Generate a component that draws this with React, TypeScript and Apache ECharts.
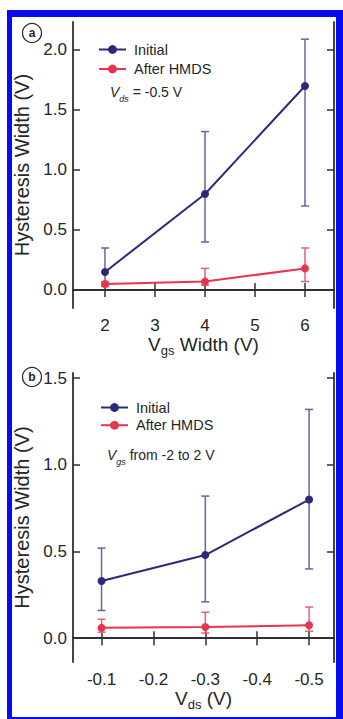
import React, { useEffect, useRef } from 'react';
import * as echarts from 'echarts';

// Panel (a): Vgs width sweep
const xA = [2, 4, 6];
const initialA = [0.15, 0.8, 1.7];
const initialALow = [0.03, 0.4, 0.7];
const initialAHigh = [0.35, 1.32, 2.09];
const afterA = [0.05, 0.07, 0.18];
const afterALow = [0.03, 0.04, 0.07];
const afterAHigh = [0.07, 0.18, 0.35];

// Panel (b): Vds sweep
const xB = [-0.1, -0.3, -0.5];
const initialB = [0.33, 0.48, 0.8];
const initialBLow = [0.16, 0.21, 0.4];
const initialBHigh = [0.52, 0.82, 1.32];
const afterB = [0.06, 0.065, 0.075];
const afterBLow = [0.035, 0.03, 0.04];
const afterBHigh = [0.11, 0.15, 0.18];

const xTicksA = [2, 3, 4, 5, 6];
const yTicksA = [0, 0.5, 1, 1.5, 2];
const xTicksB = [-0.1, -0.2, -0.3, -0.4, -0.5];
const yTicksB = [0, 0.5, 1, 1.5];

const seriesNames = ['Initial', 'After HMDS'];

const NAVY = '#2b2a7a';
const NAVY_ERR = '#6464a4';
const RED = '#e8344c';
const RED_ERR = '#e5607a';
const INK = '#262626';
const FRAME = '#303030';
const FONT = "'Liberation Sans', Arial, Helvetica, sans-serif";
const BLUE = '#0a0af2';

const pts = (xs: number[], ys: number[]) => xs.map((x, i) => [x, ys[i]]);
const errs = (xs: number[], lo: number[], hi: number[]) => xs.map((x, i) => [x, lo[i], hi[i]]);

function errRender(color: string) {
  return (params: any, api: any) => {
    const x = api.value(0);
    const pLo = api.coord([x, api.value(1)]);
    const pHi = api.coord([x, api.value(2)]);
    const w = 4;
    const style = { stroke: color, lineWidth: 1.5, fill: 'none' };
    return {
      type: 'group',
      children: [
        { type: 'line', shape: { x1: pLo[0], y1: pLo[1], x2: pHi[0], y2: pHi[1] }, style },
        { type: 'line', shape: { x1: pHi[0] - w, y1: pHi[1], x2: pHi[0] + w, y2: pHi[1] }, style },
        { type: 'line', shape: { x1: pLo[0] - w, y1: pLo[1], x2: pLo[0] + w, y2: pLo[1] }, style },
      ],
    };
  };
}

const lineAxis = { show: true, lineStyle: { color: FRAME, width: 1.8 } };
const tickStyle = { color: FRAME, width: 1.5 };

function mainX(grid: number, min: number, max: number, ticks: number[], inverse: boolean, name: string, gap: number, fmt: (v: number) => string) {
  return {
    gridIndex: grid, type: 'value', min, max, inverse, position: 'bottom',
    axisLine: lineAxis,
    axisTick: { show: true, inside: true, length: 7, customValues: ticks, lineStyle: tickStyle },
    axisLabel: { show: true, customValues: ticks, formatter: fmt, fontSize: 17, color: INK, fontFamily: FONT, margin: 9 },
    splitLine: { show: false },
    name, nameLocation: 'middle', nameGap: gap,
    nameTextStyle: {
      color: INK, fontFamily: FONT,
      rich: {
        a: { fontSize: 19, lineHeight: 26, color: INK, fontFamily: FONT },
        s: { fontSize: 13, lineHeight: 13, verticalAlign: 'bottom', color: INK, fontFamily: FONT },
      },
    },
  };
}
function topX(grid: number, min: number, max: number, ticks: number[], inverse: boolean) {
  return {
    gridIndex: grid, type: 'value', min, max, inverse, position: 'top',
    axisLine: lineAxis,
    axisTick: { show: true, inside: true, length: 7, customValues: ticks, lineStyle: tickStyle },
    axisLabel: { show: false },
    splitLine: { show: false },
  };
}
function mainY(grid: number, min: number, max: number, ticks: number[], gap: number) {
  return {
    gridIndex: grid, type: 'value', min, max, position: 'left',
    axisLine: lineAxis,
    axisTick: { show: true, inside: true, length: 7, customValues: ticks, lineStyle: tickStyle },
    axisLabel: { show: true, customValues: ticks, formatter: (v: number) => v.toFixed(1), fontSize: 17, color: INK, fontFamily: FONT, margin: 6 },
    splitLine: { show: false },
    name: 'Hysteresis Width (V)', nameLocation: 'middle', nameGap: gap,
    nameTextStyle: { fontSize: 20, lineHeight: 20, color: INK, fontFamily: FONT },
  };
}
function rightY(grid: number, min: number, max: number, ticks: number[]) {
  return {
    gridIndex: grid, type: 'value', min, max, position: 'right',
    axisLine: lineAxis,
    axisTick: { show: true, inside: true, length: 7, customValues: ticks, lineStyle: tickStyle },
    axisLabel: { show: false },
    splitLine: { show: false },
  };
}

function lineSeries(name: string, color: string, data: number[][], xi: number, yi: number) {
  return {
    type: 'line', name, data, xAxisIndex: xi, yAxisIndex: yi,
    symbol: 'circle', symbolSize: 8, z: 5,
    lineStyle: { color, width: 2 }, itemStyle: { color },
  };
}
function errSeries(name: string, color: string, data: number[][], xi: number, yi: number) {
  return {
    type: 'custom', name, data, xAxisIndex: xi, yAxisIndex: yi,
    coordinateSystem: 'cartesian2d', encode: { x: 0, y: [1, 2] },
    renderItem: errRender(color), z: 3, silent: true,
  };
}

function legendAt(left: number, top: number, gap: number) {
  return {
    data: seriesNames, orient: 'vertical', left, top, padding: 0,
    itemWidth: 27, itemHeight: 11, itemGap: gap, selectedMode: false,
    textStyle: { fontSize: 14.5, lineHeight: 14, color: INK, fontFamily: FONT, padding: [0, 0, 0, 3] },
  };
}

function circledLabel(cx: number, cy: number, letter: string) {
  return [
    { type: 'circle', shape: { cx, cy, r: 9.5 }, style: { stroke: FRAME, lineWidth: 1.3, fill: '#fff' } },
    { type: 'text', x: cx, y: cy, style: { text: letter, fontSize: 12, fontWeight: 'bold', fill: INK, font: `bold 12px ${FONT}`, align: 'center', verticalAlign: 'middle' } },
  ];
}

function noteText(x: number, y: number, sub: string, rest: string) {
  return {
    type: 'text', x, y,
    style: {
      text: `{v|V}{s|${sub}}{n|${rest}}`,
      verticalAlign: 'middle', align: 'left',
      rich: {
        v: { fontSize: 14, lineHeight: 22, fontStyle: 'italic', fill: INK, fontFamily: FONT },
        s: { fontSize: 9, lineHeight: 9, fontStyle: 'italic', verticalAlign: 'bottom', fill: INK, fontFamily: FONT },
        n: { fontSize: 14, lineHeight: 22, fill: INK, fontFamily: FONT },
      },
    },
  };
}

export default function App() {
  const ref = useRef<HTMLDivElement>(null);
  useEffect(() => {
    if (!ref.current) return;
    const chart = echarts.init(ref.current, null, { renderer: 'svg' });
    const option: any = {
      animation: false,
      backgroundColor: '#ffffff',
      textStyle: { fontFamily: FONT },
      grid: [
        { left: 73, top: 22, width: 261, height: 286, containLabel: false },
        { left: 73, top: 373, width: 261, height: 289, containLabel: false },
      ],
      xAxis: [
        mainX(0, 1.36, 6.58, xTicksA, false, '{a|V}{s|gs}{a| Width (V)}', 22, (v: number) => String(v)),
        topX(0, 1.36, 6.58, xTicksA, false),
        mainX(1, -0.548, -0.045, xTicksB, true, '{a|V}{s|ds}{a| (V)}', 18, (v: number) => v.toFixed(1)),
        topX(1, -0.548, -0.045, xTicksB, true),
      ],
      yAxis: [
        mainY(0, -0.15, 2.233, yTicksA, 35),
        rightY(0, -0.15, 2.233, yTicksA),
        mainY(1, -0.137, 1.53, yTicksB, 36),
        rightY(1, -0.137, 1.53, yTicksB),
      ],
      legend: [legendAt(98, 42, 4.5), legendAt(100, 400, 2.7)],
      series: [
        errSeries('Initial err a', NAVY_ERR, errs(xA, initialALow, initialAHigh), 0, 0),
        errSeries('After err a', RED_ERR, errs(xA, afterALow, afterAHigh), 0, 0),
        lineSeries(seriesNames[0], NAVY, pts(xA, initialA), 0, 0),
        lineSeries(seriesNames[1], RED, pts(xA, afterA), 0, 0),
        errSeries('Initial err b', NAVY_ERR, errs(xB, initialBLow, initialBHigh), 2, 2),
        errSeries('After err b', RED_ERR, errs(xB, afterBLow, afterBHigh), 2, 2),
        lineSeries(seriesNames[0], NAVY, pts(xB, initialB), 2, 2),
        lineSeries(seriesNames[1], RED, pts(xB, afterB), 2, 2),
      ],
      graphic: [
        { type: 'rect', shape: { x: 7, y: 10, width: 336, height: 7 }, style: { fill: BLUE }, silent: true },
        { type: 'rect', shape: { x: 7, y: 10, width: 5, height: 709 }, style: { fill: BLUE }, silent: true },
        { type: 'rect', shape: { x: 336, y: 10, width: 7, height: 709 }, style: { fill: BLUE }, silent: true },
        { type: 'rect', shape: { x: 7, y: 717, width: 336, height: 2 }, style: { fill: BLUE }, silent: true },
        ...circledLabel(32, 33, 'a'),
        ...circledLabel(32, 377, 'b'),
        noteText(110, 92, 'ds', ' = -0.5 V'),
        noteText(107, 455, 'gs', ' from -2 to 2 V'),
      ],
    };
    chart.setOption(option);
    return () => chart.dispose();
  }, []);
  return <div ref={ref} style={{ position: 'absolute', left: 0, top: 0, width: 343, height: 719 }} />;
}
